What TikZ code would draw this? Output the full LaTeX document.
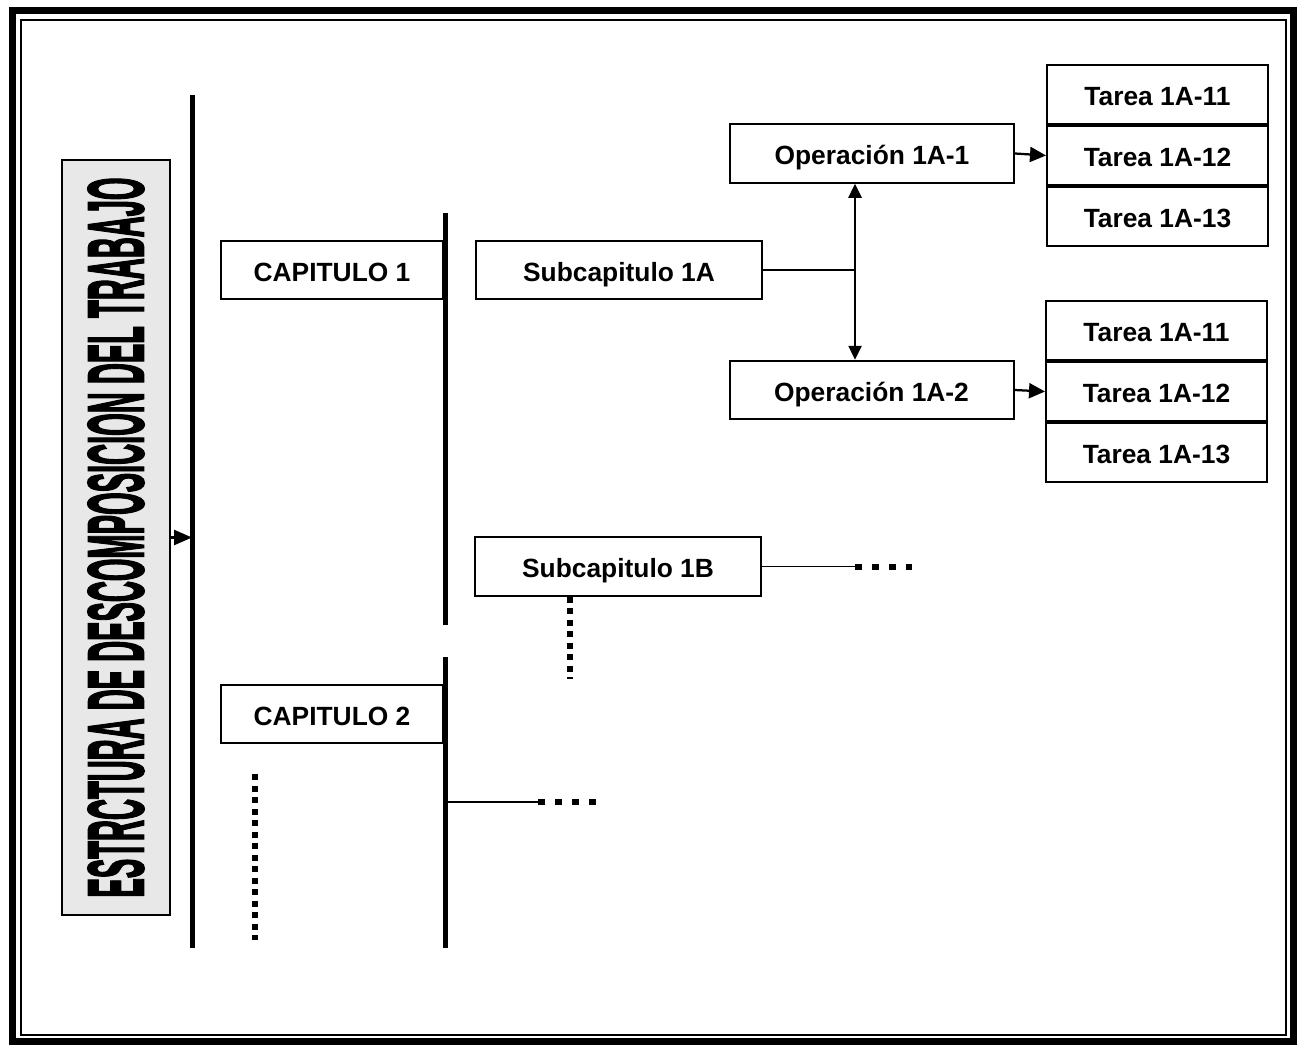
\documentclass[tikz,border=0pt]{standalone}
\usepackage{fontspec}
\setmainfont{Liberation Sans}
\newfontface\heavyfont[FakeBold=3]{Liberation Sans Bold}
\usepackage{graphicx}
\usetikzlibrary{arrows.meta,positioning}

\tikzset{
  wbsbox/.style={draw, line width=0.4mm, fill=white, inner sep=0pt, minimum height=11.7mm,
    text height=14pt, text depth=1pt, font=\fontsize{15}{17}\selectfont\bfseries},
  capbox/.style={wbsbox, minimum width=44.4mm},
  subbox/.style={wbsbox, minimum width=57.2mm},
  opbox/.style={wbsbox, minimum width=56.8mm},
  taskbox/.style={wbsbox, minimum width=44.2mm, minimum height=11.8mm},
  titlebox/.style={draw, line width=0.4mm, fill=gray!18, inner sep=0pt, rotate=90,
    minimum width=151mm, minimum height=21.6mm},
  spine/.style={line width=1mm},
  link/.style={line width=0.3mm},
  tip/.style={line width=0.45mm, -{Triangle[length=3.2mm, width=3mm]}},
  dbltip/.style={line width=0.5mm, {Triangle[length=2.8mm, width=2.6mm]}-{Triangle[length=2.8mm, width=2.6mm]}},
  dotline/.style={line width=1.2mm, dash pattern=on 1.2mm off 1.1mm},
  dotrow/.style={line width=1.2mm, dash pattern=on 1.3mm off 2.1mm}
}

\begin{document}
\begin{tikzpicture}[x=0.2mm, y=-0.2mm]
  \useasboundingbox (0,0) rectangle (1298,1045);

  % Frame
  \draw[line width=1.4mm] (12,11) rectangle (1293,1041);
  \draw[line width=0.25mm] (21,20) rectangle (1286,1035);

  % Title
  \node[titlebox] (title) at (116,537.5)
    {\resizebox{144mm}{11mm}{\heavyfont ESTRCTURA DE DESCOMPOSICION DEL TRABAJO}};

  % Spines
  \coordinate (s1top) at (192,95);
  \coordinate (s1bot) at (192,948);
  \coordinate (s2top) at (445,213);
  \coordinate (s2bot) at (445,625);
  \coordinate (s3top) at (445,657);
  \coordinate (s3bot) at (445,948);
  \draw[spine] (s1top) -- (s1bot);
  \draw[spine] (s2top) -- (s2bot);
  \draw[spine] (s3top) -- (s3bot);
  \draw[line width=0.5mm, -{Triangle[length=3.6mm, width=3mm]}] (title.south) -- (title.south -| s1top);

  % Chapters
  \node[capbox] (cap1) at (332,270) {CAPITULO 1};
  \node[capbox] (cap2) at (332,714) {CAPITULO 2};

  % Subchapters
  \node[subbox] (sub1A) at (619,270) {Subcapitulo 1A};
  \node[subbox] (sub1B) at (618,566.5) {Subcapitulo 1B};

  % Operations
  \node[opbox] (op1) at (872,153.5) {Operación 1A-1};
  \node[opbox] (op2) at (871.5,390) {Operación 1A-2};

  % Tasks
  \node[taskbox] (t11) at (1157.5,94.5) {Tarea 1A-11};
  \node[taskbox, below=0pt of t11] (t12) {Tarea 1A-12};
  \node[taskbox, below=0pt of t12] (t13) {Tarea 1A-13};
  \node[taskbox] (t21) at (1156.5,330.5) {Tarea 1A-11};
  \node[taskbox, below=0pt of t21] (t22) {Tarea 1A-12};
  \node[taskbox, below=0pt of t22] (t23) {Tarea 1A-13};

  % Connectors
  \coordinate (fork) at (855,270);
  \draw[link] (sub1A.east) -- (fork);
  \draw[dbltip] (fork |- op1.south) -- (fork |- op2.north);
  \draw[tip] (op1.east) -- (t12.west);
  \draw[tip] (op2.east) -- (t22.west);

  % Open branches
  \coordinate (b1end) at (855,566.5);
  \coordinate (b1dots) at (912,566.5);
  \draw[link] (sub1B.east) -- (b1end);
  \draw[dotrow] (b1end) -- (b1dots);
  \coordinate (b1down) at (570,679);
  \draw[dotline] (sub1B.south -| b1down) -- (b1down);
  \coordinate (c2fork) at (445,802);
  \coordinate (c2dash) at (538,802);
  \coordinate (c2end) at (596,802);
  \draw[link] (c2fork) -- (c2dash);
  \draw[dotrow] (c2dash) -- (c2end);
  \coordinate (c2top) at (255,774);
  \coordinate (c2bot) at (255,940);
  \draw[dotline] (c2top) -- (c2bot);
\end{tikzpicture}
\end{document}
